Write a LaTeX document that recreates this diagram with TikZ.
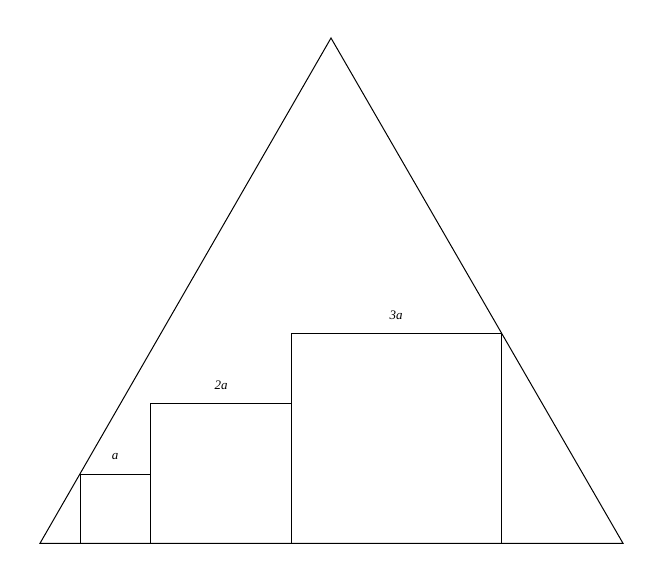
\documentclass[tikz,border=0pt]{standalone}
\usepackage{fontspec}
\setmainfont{Liberation Serif}
\begin{document}
\begin{tikzpicture}[x=1pt,y=-1pt,
  shape line/.style={draw=black,line width=1pt},
  lbl/.style={font=\itshape\fontsize{13}{15}\selectfont,inner sep=0pt}]
\useasboundingbox (0,0) rectangle (662,583);
\coordinate (A) at (331,38);
\coordinate (B) at (40,543.3);
\coordinate (C) at (623,543.3);
\draw[shape line] (A) -- (B) -- (C) -- cycle;
\draw[shape line] (80,474) rectangle (150,543.3);
\draw[shape line] (150,403) rectangle (291,543.3);
\draw[shape line] (291,333) rectangle (501,543.3);
\node[lbl] (la) at (115,457) {a};
\node[lbl] (l2a) at (221,385) {2a};
\node[lbl] (l3a) at (396,315) {3a};
\end{tikzpicture}
\end{document}
